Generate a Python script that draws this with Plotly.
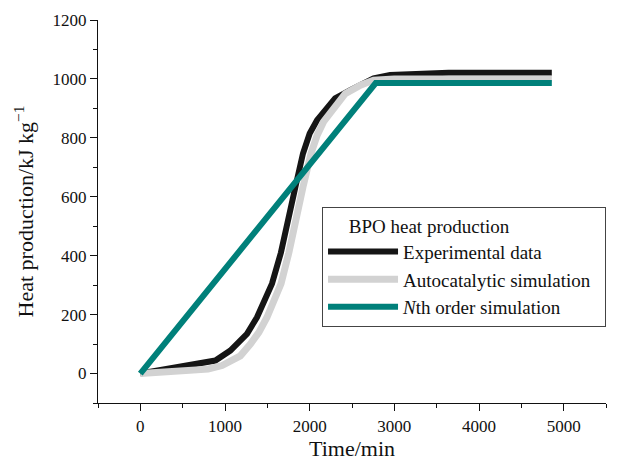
import plotly.graph_objects as go

# Experimental data
exp_time = [0, 315, 600, 886, 1063, 1260, 1378, 1555, 1660, 1752, 1831, 1921, 2000, 2087,
            2175, 2300, 2480, 2755, 2950, 3600, 3640, 4860]
exp_heat = [0, 16, 30, 44, 78, 135, 191, 305, 410, 520, 633, 747, 815, 860,
            894, 934, 962, 1002, 1013, 1016, 1021, 1021]

# Autocatalytic simulation
auto_time = [0, 240, 800, 965, 1181, 1300, 1400, 1496, 1580, 1662, 1754, 1831, 1921, 2016,
             2090, 2165, 2300, 2420, 2600, 2755, 3000, 4860]
auto_heat = [0, 4, 15, 27, 60, 100, 140, 191, 245, 305, 410, 520, 633, 747,
             810, 855, 910, 950, 979, 996, 1000, 1000]

# Nth order simulation
nth_time = [0, 2780, 4860]
nth_heat = [0, 986, 986]

x_ticks = [0, 1000, 2000, 3000, 4000, 5000]
y_ticks = [0, 200, 400, 600, 800, 1000, 1200]

FONT = "Liberation Serif"
INK = "#111111"

fig = go.Figure()
fig.add_trace(go.Scatter(x=exp_time, y=exp_heat, mode="lines", name="Experimental data",
                         line=dict(color="#151515", width=6)))
fig.add_trace(go.Scatter(x=auto_time, y=auto_heat, mode="lines",
                         name="Autocatalytic simulation\u00a0\u00a0",
                         line=dict(color="#d2d2d2", width=7)))
fig.add_trace(go.Scatter(x=nth_time, y=nth_heat, mode="lines", name="<i>N</i>th order simulation",
                         line=dict(color="#00807a", width=6)))

fig.update_layout(
    width=611, height=453,
    margin=dict(l=90, r=13, t=12, b=58),
    paper_bgcolor="white", plot_bgcolor="white",
    font=dict(family=FONT, size=17, color=INK),
    showlegend=True,
    legend=dict(
        x=0.441, y=0.512, xanchor="left", yanchor="top",
        bgcolor="white", bordercolor="#444", borderwidth=1,
        font=dict(family=FONT, size=19, color=INK),
        title=dict(text="\u00a0\u00a0\u00a0\u00a0\u00a0BPO heat production",
                   font=dict(family=FONT, size=19, color=INK)),
        tracegroupgap=0, itemwidth=70,
    ),
    xaxis=dict(
        range=[-500, 5500], tickvals=x_ticks, ticktext=[str(v) for v in x_ticks],
        showgrid=False, zeroline=False, automargin=False,
        showline=True, linecolor=INK, linewidth=1.3,
        ticks="outside", ticklen=7, tickwidth=1.3, tickcolor=INK,
        minor=dict(dtick=500, tick0=0, ticks="outside", ticklen=4, tickwidth=1.3, tickcolor=INK),
        tickfont=dict(family=FONT, size=17, color=INK),
        title=dict(text="Time/min", font=dict(family=FONT, size=22, color=INK), standoff=6),
    ),
    yaxis=dict(
        range=[-100, 1200], tickvals=y_ticks, ticktext=[str(v) for v in y_ticks],
        showgrid=False, zeroline=False, automargin=False,
        showline=True, linecolor=INK, linewidth=1.3,
        ticks="outside", ticklen=7, tickwidth=1.3, tickcolor=INK,
        minor=dict(dtick=100, tick0=0, ticks="outside", ticklen=4, tickwidth=1.3, tickcolor=INK),
        tickfont=dict(family=FONT, size=17, color=INK),
        title=dict(text="Heat production/kJ kg<sup>−1</sup>", font=dict(family=FONT, size=22, color=INK), standoff=12),
    ),
)

fig.write_html("out.html")
